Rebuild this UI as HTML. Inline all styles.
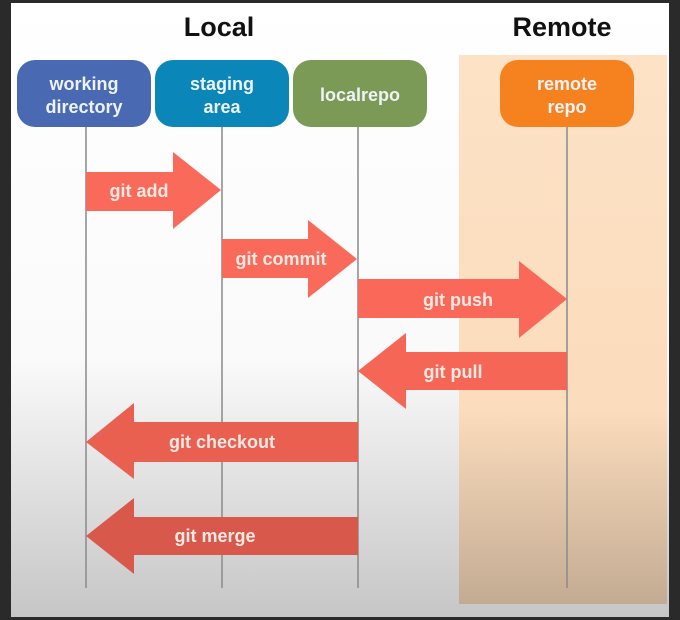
<!DOCTYPE html>
<html><head><meta charset="utf-8"><style>
html,body{margin:0;padding:0;background:#2a2a2a;}
svg{display:block;}
text{font-family:"Liberation Sans",sans-serif;font-weight:bold;}
</style></head><body>
<svg width="680" height="620" viewBox="0 0 680 620" xmlns="http://www.w3.org/2000/svg">
<defs>
<linearGradient id="bg" x1="0" y1="0" x2="0" y2="1">
<stop offset="0" stop-color="#ffffff"/><stop offset="0.58" stop-color="#fafafa"/><stop offset="1" stop-color="#c6c6c6"/>
</linearGradient>
<linearGradient id="rm" x1="0" y1="0" x2="0" y2="1">
<stop offset="0" stop-color="#fde2c6"/><stop offset="0.65" stop-color="#fbdcbc"/><stop offset="1" stop-color="#c3ab93"/>
</linearGradient>
</defs>
<rect x="0" y="0" width="680" height="620" fill="#2a2a2a"/>
<rect x="11" y="3" width="658" height="614" fill="url(#bg)"/>
<rect x="459" y="55" width="208" height="549" fill="url(#rm)"/>
<text x="219" y="36" font-size="27" text-anchor="middle" fill="#111">Local</text>
<text x="562" y="36" font-size="27" text-anchor="middle" fill="#111">Remote</text>
<g stroke="#8a8a8a" stroke-width="1.5">
<line x1="86" y1="127" x2="86" y2="588"/><line x1="222" y1="127" x2="222" y2="588"/>
<line x1="358" y1="127" x2="358" y2="588"/><line x1="567" y1="127" x2="567" y2="588"/>
</g>
<rect x="17" y="60" width="134" height="67" rx="18" fill="#4a69b3"/>
<rect x="155" y="60" width="134" height="67" rx="18" fill="#0b86b8"/>
<rect x="293" y="60" width="134" height="67" rx="18" fill="#7a9a55"/>
<rect x="500" y="60" width="134" height="67" rx="18" fill="#f5821f"/>
<g font-size="18" fill="#eef3f8" text-anchor="middle">
<text x="84" y="90">working</text><text x="84" y="113">directory</text>
<text x="222" y="90">staging</text><text x="222" y="113">area</text>
<text x="360" y="101">localrepo</text>
<text x="567" y="90">remote</text><text x="567" y="113">repo</text>
</g>
<polygon fill="#fa6a5a" points="86,172 173,172 173,152 221,190 173,229 173,211 86,211"/>
<polygon fill="#fa6a5a" points="222,239 308,239 308,220 357,259 308,298 308,278 222,278"/>
<polygon fill="#f96858" points="358,279 519,279 519,261 567,299 519,338 519,318 358,318"/>
<polygon fill="#f66656" points="567,352 406,352 406,333 358,371 406,409 406,390 567,390"/>
<polygon fill="#e95f50" points="358,422 134,422 134,403 86,442 134,479 134,462 358,462"/>
<polygon fill="#d8594b" points="358,517 134,517 134,498 86,536 134,574 134,555 358,555"/>
<g font-size="18" fill="#fbe9e4" text-anchor="middle">
<text x="139" y="197">git add</text>
<text x="281" y="265">git commit</text>
<text x="458" y="306">git push</text>
<text x="453" y="378">git pull</text>
<text x="222" y="448">git checkout</text>
<text x="215" y="542">git merge</text>
</g>
</svg>
</body></html>
